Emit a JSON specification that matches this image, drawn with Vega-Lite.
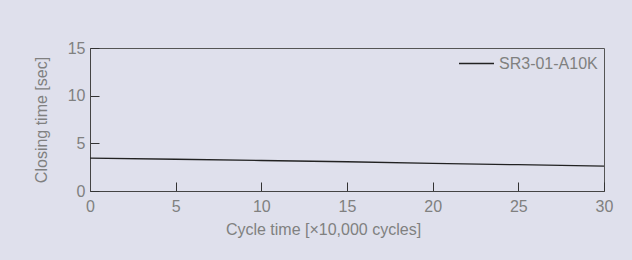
{
  "$schema": "https://vega.github.io/schema/vega-lite/v6.json",
  "width": 514,
  "height": 143,
  "autosize": {"type": "none"},
  "padding": {"left": 90, "top": 48, "right": 28, "bottom": 69},
  "background": "#dfe0ec",
  "config": {
    "view": {"stroke": "#555555", "strokeWidth": 1},
    "font": "Liberation Sans",
    "axis": {
      "grid": false,
      "domainColor": "#444444",
      "tickColor": "#333333",
      "tickSize": -9,
      "labelColor": "#808080",
      "labelFontSize": 16,
      "labelFont": "Liberation Sans",
      "labelFlush": false,
      "titleColor": "#808080",
      "titleFontSize": 16,
      "titleFontWeight": "normal",
      "titleFont": "Liberation Sans"
    }
  },
  "data": {
    "values": [
      {"cycle": 0, "time": 3.45, "series": "SR3-01-A10K"},
      {"cycle": 5, "time": 3.33, "series": "SR3-01-A10K"},
      {"cycle": 10, "time": 3.2, "series": "SR3-01-A10K"},
      {"cycle": 15, "time": 3.07, "series": "SR3-01-A10K"},
      {"cycle": 20, "time": 2.9, "series": "SR3-01-A10K"},
      {"cycle": 25, "time": 2.76, "series": "SR3-01-A10K"},
      {"cycle": 30, "time": 2.6, "series": "SR3-01-A10K"}
    ]
  },
  "mark": {"type": "line", "strokeWidth": 1.3},
  "encoding": {
    "x": {
      "field": "cycle",
      "type": "quantitative",
      "scale": {"domain": [0, 30], "nice": false},
      "axis": {"values": [0, 5, 10, 15, 20, 25, 30], "title": "Cycle time [×10,000 cycles]", "labelPadding": 16, "titlePadding": 7, "titleX": 233}
    },
    "y": {
      "field": "time",
      "type": "quantitative",
      "scale": {"domain": [0, 15], "nice": false},
      "axis": {"values": [0, 5, 10, 15], "title": "Closing time [sec]", "labelPadding": 14, "titlePadding": 18}
    },
    "color": {
      "field": "series",
      "type": "nominal",
      "scale": {"range": ["#222222"]},
      "legend": {
        "title": null,
        "orient": "none",
        "legendX": 368,
        "legendY": -3,
        "symbolType": "stroke",
        "symbolSize": 1225,
        "symbolStrokeWidth": 1.3,
        "labelFontSize": 16,
        "labelColor": "#808080",
        "labelFont": "Liberation Sans",
        "padding": 0
      }
    }
  }
}
